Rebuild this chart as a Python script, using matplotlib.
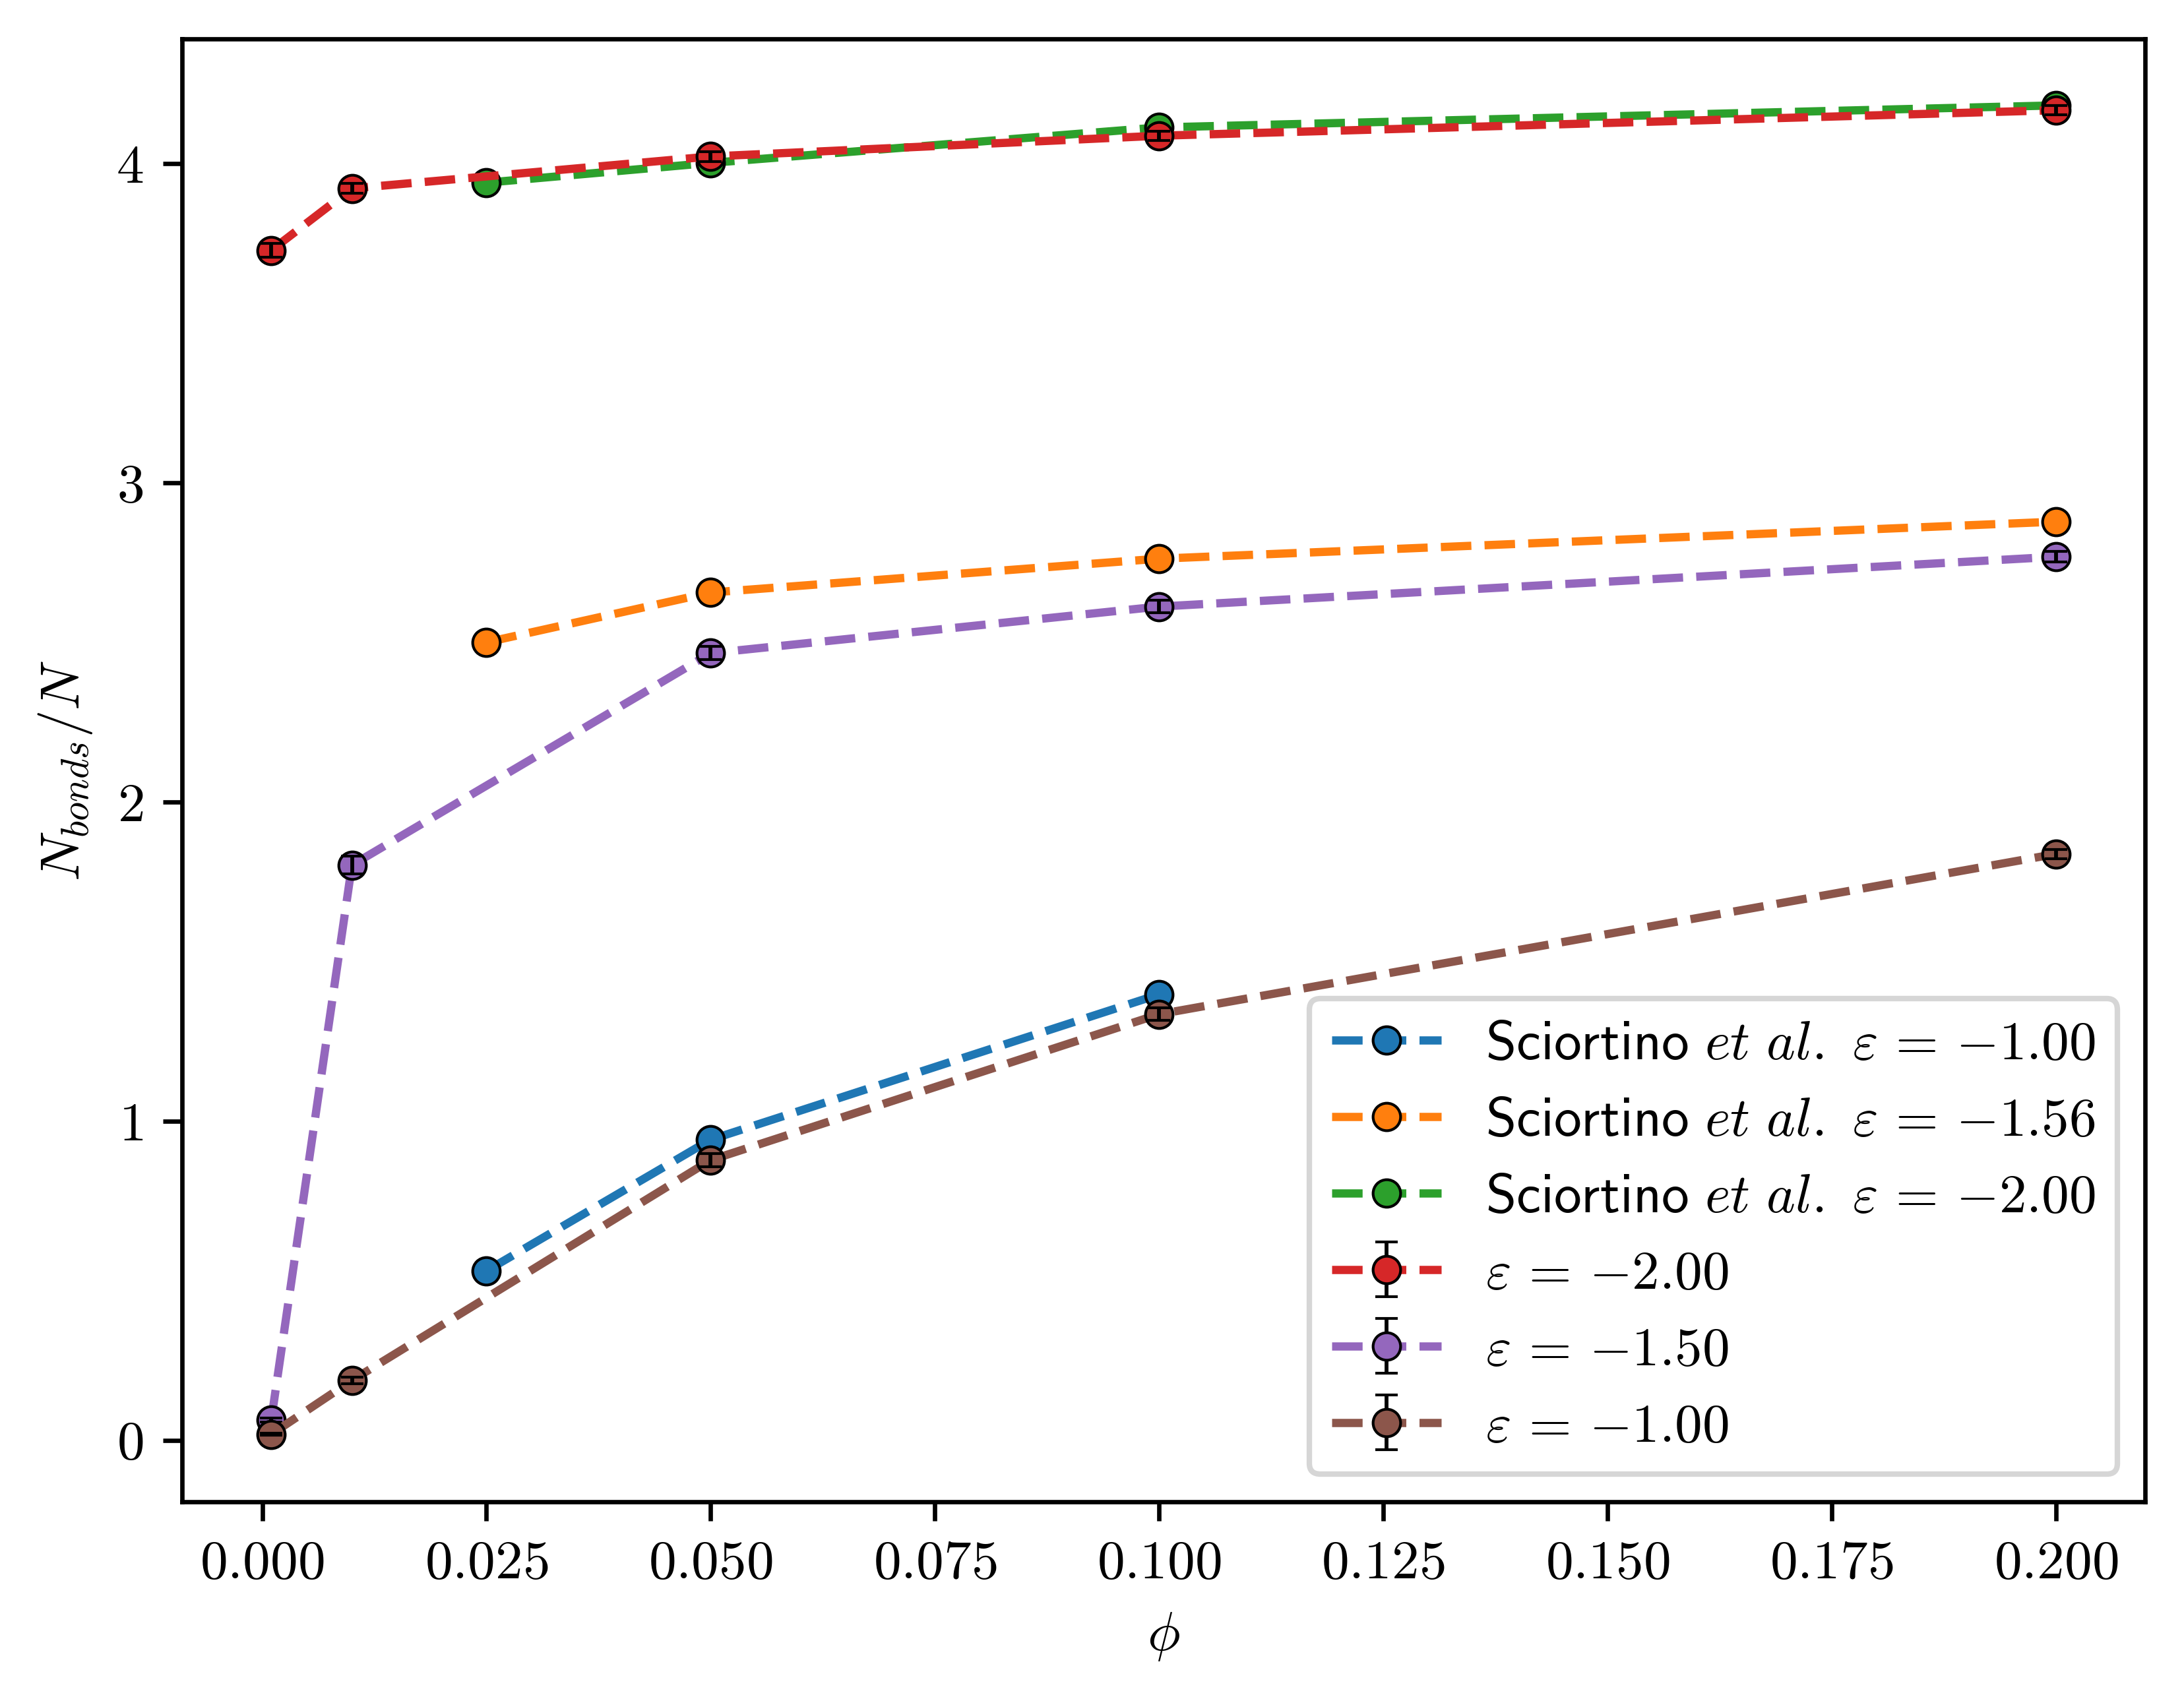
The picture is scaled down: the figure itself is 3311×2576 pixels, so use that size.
import numpy as np
import matplotlib
matplotlib.use("Agg")
import matplotlib.pyplot as plt

plt.rcParams['mathtext.fontset'] = 'cm'
plt.rcParams['font.family'] = 'serif'
plt.rcParams['font.serif'] = ['cmr10']
plt.rcParams['axes.formatter.use_mathtext'] = True
plt.rcParams['axes.unicode_minus'] = False

# Sciortino et al. reference data
phi_sc_1 = [0.025, 0.05, 0.1]
nb_sc_100 = [0.531, 0.942, 1.397]
phi_sc = [0.025, 0.05, 0.1, 0.2]
nb_sc_156 = [2.500, 2.656, 2.762, 2.878]
nb_sc_200 = [3.940, 4.002, 4.113, 4.182]

# our simulations
phi_sim = [0.001, 0.01, 0.05, 0.1, 0.2]
nb_200 = [3.728, 3.922, 4.022, 4.087, 4.167]
err_200 = [0.021, 0.015, 0.015, 0.014, 0.014]
nb_150 = [0.063, 1.802, 2.466, 2.612, 2.768]
err_150 = [0.006, 0.028, 0.021, 0.019, 0.016]
nb_100 = [0.019, 0.188, 0.878, 1.335, 1.837]
err_100 = [0.003, 0.011, 0.020, 0.020, 0.015]

sc_labels = [r'$\mathsf{Sciortino}\ \mathit{et\ al.}\ \varepsilon\,=\,{-}1.00$',
             r'$\mathsf{Sciortino}\ \mathit{et\ al.}\ \varepsilon\,=\,{-}1.56$',
             r'$\mathsf{Sciortino}\ \mathit{et\ al.}\ \varepsilon\,=\,{-}2.00$']
sim_labels = [r'$\varepsilon\,=\,{-}2.00$', r'$\varepsilon\,=\,{-}1.50$', r'$\varepsilon\,=\,{-}1.00$']

fig = plt.figure(figsize=(3312/600, 2576/600), dpi=600)
ax = fig.add_axes([0.0833, 0.1161, 0.8986, 0.8610])

mk = dict(marker='o', ls='--', ms=5, mec='k', mew=0.5)
ax.plot(phi_sc_1, nb_sc_100, color='tab:blue', label=sc_labels[0], **mk)
ax.plot(phi_sc, nb_sc_156, color='tab:orange', label=sc_labels[1], **mk)
ax.plot(phi_sc, nb_sc_200, color='tab:green', label=sc_labels[2], **mk)

eb = dict(ecolor='k', elinewidth=0.7, capsize=2, capthick=0.7)
z = 2.5
for y, e, c, lab in [(nb_200, err_200, 'tab:red', sim_labels[0]),
                     (nb_150, err_150, 'tab:purple', sim_labels[1]),
                     (nb_100, err_100, 'tab:brown', sim_labels[2])]:
    cont = ax.errorbar(phi_sim, y, yerr=e, color=c, label=lab, zorder=z, **mk, **eb)
    cont[0].set_zorder(z)
    for cap in cont[1]:
        cap.set_zorder(z + 0.05)
    for bar in cont[2]:
        bar.set_zorder(z + 0.05)
    z += 0.1

ax.set_xlabel(r'$\phi$')
ax.set_ylabel(r'$N_{bonds}/N$')
ax.legend(loc='lower right')

fig.savefig('out.png', dpi=600)
